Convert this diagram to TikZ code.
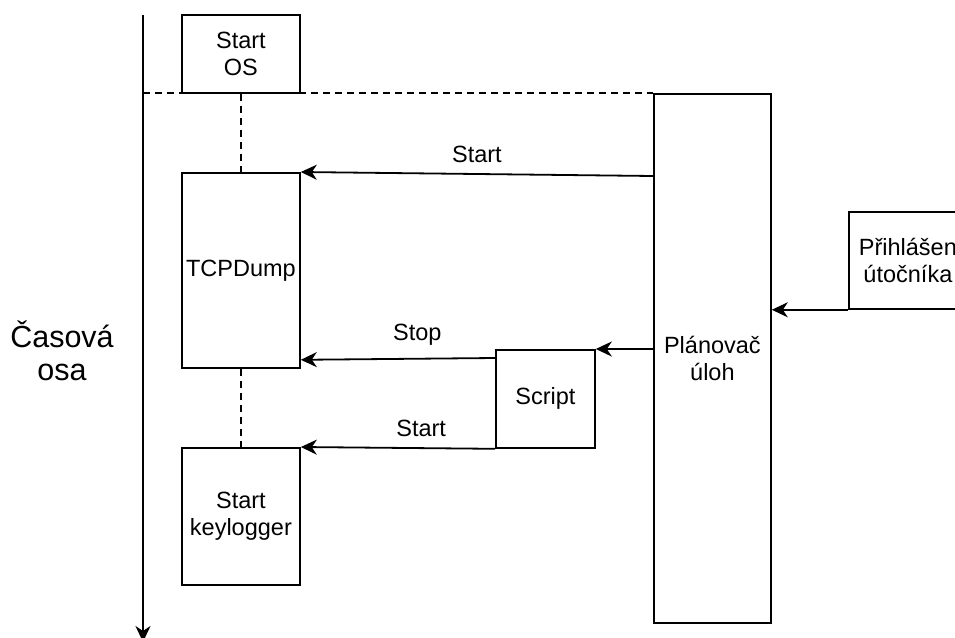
\documentclass[tikz,border=0pt]{standalone}
\usepackage{fontspec}
\setmainfont{Liberation Sans}
\usetikzlibrary{arrows.meta}
\begin{document}
\begin{tikzpicture}[x=1pt,y=-1pt,
  box/.style={draw, line width=1.8pt, inner sep=0pt, align=center,
    font=\fontsize{23.5}{27.5}\selectfont, anchor=north west},
  lbl/.style={inner sep=0pt, font=\fontsize{23.5}{27.5}\selectfont},
  arr/.style={line width=1.8pt, -{Stealth[length=16pt,width=15pt,inset=5pt]}},
  dashline/.style={line width=1.8pt, dash pattern=on 7pt off 5pt}]
\path[fill=white, use as bounding box] (0,0) rectangle (955,637);

% time axis
\coordinate (ttop) at (143,15);
\coordinate (tbot) at (143,642);
\coordinate (tline) at (143,93);
\draw[arr] (ttop) -- (tbot);
\node[lbl, align=center, font=\fontsize{30.5}{33}\selectfont] (axis) at (62,351) {Časová\\osa};

% boxes
\node[box, minimum width=118, minimum height=78] (os) at (181,14) {Start\\OS};
\node[box, minimum width=118, minimum height=195] (tcp) at (181,172) {TCPDump};
\node[box, minimum width=118, minimum height=137] (key) at (181,447) {Start\\keylogger};
\node[box, minimum width=99, minimum height=98] (script) at (495,349) {Script};
\node[box, minimum width=117, minimum height=529, text depth=-30pt] (plan) at (653,93) {Plánovač\\úloh};
\node[box, minimum width=118, minimum height=97] (login) at (848,211) {Přihlášen\\útočníka};

% dashed separators
\draw[dashline] (tline) -- (plan.north west);
\draw[dashline] (os.south) -- (tcp.north);
\draw[dashline] (tcp.south) -- (key.north);

% connectors
\draw[arr] ([yshift=-83pt]plan.north west) -- (tcp.north east)
  node[lbl, pos=0.5, above=10pt] (l1) {Start};
\draw[arr] ([yshift=-9pt]script.north west) -- ([yshift=9pt]tcp.south east)
  node[lbl, pos=0.4, above=12pt] (l2) {Stop};
\draw[arr] (script.south west) -- (key.north east)
  node[lbl, pos=0.38, above=10pt] (l3) {Start};
\draw[arr] ([yshift=-256pt]plan.north west) -- (script.north east);
\draw[arr] (login.south west) -- (login.south west -| plan.east);
\end{tikzpicture}
\end{document}
